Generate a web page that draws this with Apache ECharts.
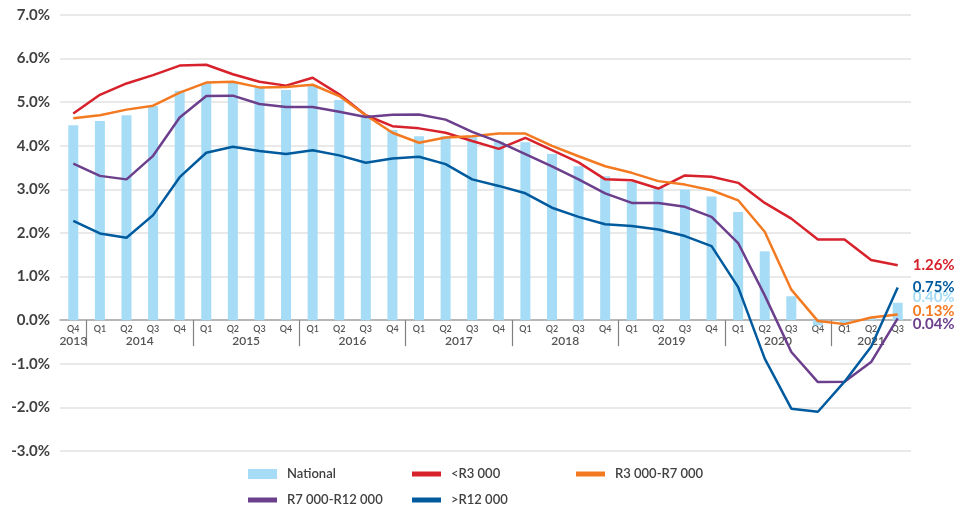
<!DOCTYPE html>
<html>
<head>
<meta charset="utf-8">
<title>Growth by price band</title>
<script src="https://cdn.jsdelivr.net/npm/echarts@6/dist/echarts.min.js"></script>
<style>
  html, body { margin: 0; padding: 0; background: #fff; }
  #chart { width: 969px; height: 511px; }
</style>
</head>
<body>
<div id="chart"></div>
<script>
// categories
var quarters = ['Q4',
  'Q1', 'Q2', 'Q3', 'Q4', 'Q1', 'Q2', 'Q3', 'Q4', 'Q1', 'Q2', 'Q3', 'Q4',
  'Q1', 'Q2', 'Q3', 'Q4', 'Q1', 'Q2', 'Q3', 'Q4', 'Q1', 'Q2', 'Q3', 'Q4',
  'Q1', 'Q2', 'Q3', 'Q4', 'Q1', 'Q2', 'Q3']
var years = ['2013',
  '2014', '2014', '2014', '2014', '2015', '2015', '2015', '2015',
  '2016', '2016', '2016', '2016', '2017', '2017', '2017', '2017',
  '2018', '2018', '2018', '2018', '2019', '2019', '2019', '2019',
  '2020', '2020', '2020', '2020', '2021', '2021', '2021']

// series values (%)
var national = [4.47,
  4.57, 4.70, 4.91, 5.26, 5.44, 5.45, 5.34, 5.28,
  5.39, 5.05, 4.68, 4.36, 4.22, 4.22, 4.20, 4.10,
  4.08, 3.81, 3.53, 3.30, 3.17, 3.05, 3.00, 2.84,
  2.48, 1.58, 0.55, -0.12, -0.08, 0.06, 0.40]
var below3k = [4.74,
  5.17, 5.43, 5.62, 5.84, 5.86, 5.64, 5.47, 5.38,
  5.56, 5.18, 4.70, 4.45, 4.40, 4.30, 4.11, 3.93,
  4.18, 3.90, 3.62, 3.23, 3.21, 3.02, 3.32, 3.29,
  3.15, 2.69, 2.33, 1.85, 1.85, 1.38, 1.26]
var r3to7k = [4.63,
  4.70, 4.83, 4.92, 5.22, 5.45, 5.47, 5.34, 5.35,
  5.40, 5.14, 4.70, 4.30, 4.07, 4.19, 4.22, 4.28,
  4.28, 4.00, 3.76, 3.53, 3.38, 3.19, 3.11, 2.98,
  2.75, 2.03, 0.70, -0.02, -0.09, 0.06, 0.13]
var r7to12k = [3.59,
  3.31, 3.23, 3.77, 4.65, 5.14, 5.15, 4.96, 4.89,
  4.89, 4.78, 4.66, 4.71, 4.72, 4.60, 4.32, 4.09,
  3.81, 3.53, 3.23, 2.91, 2.69, 2.69, 2.60, 2.37,
  1.77, 0.57, -0.73, -1.42, -1.41, -0.96, 0.04]
var above12k = [2.28,
  1.99, 1.89, 2.41, 3.28, 3.84, 3.98, 3.88, 3.81,
  3.90, 3.78, 3.61, 3.71, 3.75, 3.58, 3.23, 3.08,
  2.91, 2.58, 2.37, 2.20, 2.16, 2.08, 1.93, 1.70,
  0.76, -0.88, -2.03, -2.10, -1.41, -0.61, 0.75]

// y axis ticks
var yMin = -3
var yMax = 7
var yStep = 1

var textColor = '#404040'
var fontFamily = 'Lato, "Noto Sans", sans-serif'

// plot area
var gridLeft = 60
var gridRight = 58
var gridTop = 15
var gridBottom = 60
var plotHeight = 511 - gridTop - gridBottom
// quarter / year band sits just under the zero line
var zeroTop = gridTop + plotHeight * yMax / (yMax - yMin)

// year label centres and year separators, in category index units
var yearCentres = []
var yearBounds = []
var yearNames = {}
;(function () {
  var start = 0
  for (var i = 1; i <= years.length; i++) {
    if (i === years.length || years[i] !== years[start]) {
      var c = (start + i - 1) / 2
      yearCentres.push(c)
      yearNames[c] = years[start]
      if (i < years.length) yearBounds.push(i - 0.5)
      start = i
    }
  }
})()

var last = national.length - 1
var nationalData = national.map(function (v, i) {
  if (i !== last) return v
  return {
    value: v,
    label: {
      show: true,
      position: 'right',
      distance: 10,
      offset: [0, -14],
      formatter: function (p) { return p.value.toFixed(2) + '%' },
      color: '#a6dcf5',
      fontSize: 15,
      fontWeight: 'bold',
      fontFamily: fontFamily
    }
  }
})

function lineSeries(name, data, color, dy) {
  return {
    name: name,
    type: 'line',
    data: data,
    symbol: 'none',
    lineStyle: { color: color, width: 2.5 },
    itemStyle: { color: color },
    z: 3,
    endLabel: {
      show: true,
      distance: 15,
      offset: [0, dy],
      formatter: function (p) { return p.value.toFixed(2) + '%' },
      color: color,
      fontSize: 15,
      fontWeight: 'bold',
      fontFamily: fontFamily
    }
  }
}

var lineIcon = 'path://M0,0h29v5h-29z'

var chart = echarts.init(document.getElementById('chart'))
chart.setOption({
  animation: false,
  grid: [
    { left: gridLeft, right: gridRight, top: gridTop, bottom: gridBottom },
    { left: gridLeft, right: gridRight, top: zeroTop, height: 30 }
  ],
  legend: {
    left: 248,
    top: 466,
    width: 500,
    padding: 0,
    itemWidth: 29,
    itemHeight: 10,
    itemGap: 10,
    symbolKeepAspect: true,
    textStyle: {
      color: textColor,
      fontSize: 13,
      fontWeight: 600,
      fontFamily: fontFamily,
      width: 115,
      lineHeight: 16,
      padding: [0, 0, 0, 5]
    },
    data: [
      { name: 'National', icon: 'rect' },
      { name: '<R3 000', icon: lineIcon },
      { name: 'R3 000-R7 000', icon: lineIcon },
      { name: 'R7 000-R12 000', icon: lineIcon },
      { name: '>R12 000', icon: lineIcon }
    ]
  },
  xAxis: [
    {
      // zero line of the plot
      type: 'category',
      gridIndex: 0,
      data: quarters,
      position: 'bottom',
      axisLine: { onZero: true, lineStyle: { color: '#a6a6a6', width: 1.5 } },
      axisTick: { show: false },
      axisLabel: { show: false }
    },
    {
      // quarter labels
      type: 'category',
      gridIndex: 1,
      data: quarters,
      position: 'top',
      axisLine: { show: false, onZero: false },
      axisTick: { show: false },
      axisLabel: {
        inside: true,
        interval: 0,
        margin: 4,
        color: '#555',
        fontSize: 9,
        fontWeight: 600,
        fontFamily: fontFamily
      }
    },
    {
      // year labels and separators
      type: 'value',
      gridIndex: 1,
      position: 'top',
      offset: 0,
      min: -0.5,
      max: quarters.length - 0.5,
      splitLine: { show: false },
      axisLine: { show: false, onZero: false },
      axisTick: {
        show: true,
        inside: true,
        customValues: yearBounds,
        length: 26,
        lineStyle: { color: '#808080', width: 1.2 }
      },
      axisLabel: {
        inside: true,
        customValues: yearCentres,
        margin: 15,
        formatter: function (v) { return yearNames[v] || '' },
        color: '#555',
        fontSize: 12,
        fontWeight: 600,
        fontFamily: fontFamily
      }
    }
  ],
  yAxis: [
    {
      type: 'value',
      gridIndex: 0,
      min: yMin,
      max: yMax,
      interval: yStep,
      axisLine: { show: false },
      axisTick: { show: false },
      splitLine: { lineStyle: { color: '#e2e2e2', width: 1.5 } },
      axisLabel: {
        margin: 10,
        formatter: function (v) { return v.toFixed(1) + '%' },
        color: textColor,
        fontSize: 15,
        fontWeight: 'bold',
        fontFamily: fontFamily
      }
    },
    {
      type: 'value',
      gridIndex: 1,
      show: false
    }
  ],
  series: [
    {
      name: 'National',
      type: 'bar',
      data: nationalData,
      barWidth: 10,
      itemStyle: { color: '#a6dcf5' },
      z: 1
    },
    lineSeries('<R3 000', below3k, '#d7212b', 0),
    lineSeries('R3 000-R7 000', r3to7k, '#f47a21', -3),
    lineSeries('R7 000-R12 000', r7to12k, '#6c3f8c', 6),
    lineSeries('>R12 000', above12k, '#005b9e', 0)
  ]
})
</script>
</body>
</html>
